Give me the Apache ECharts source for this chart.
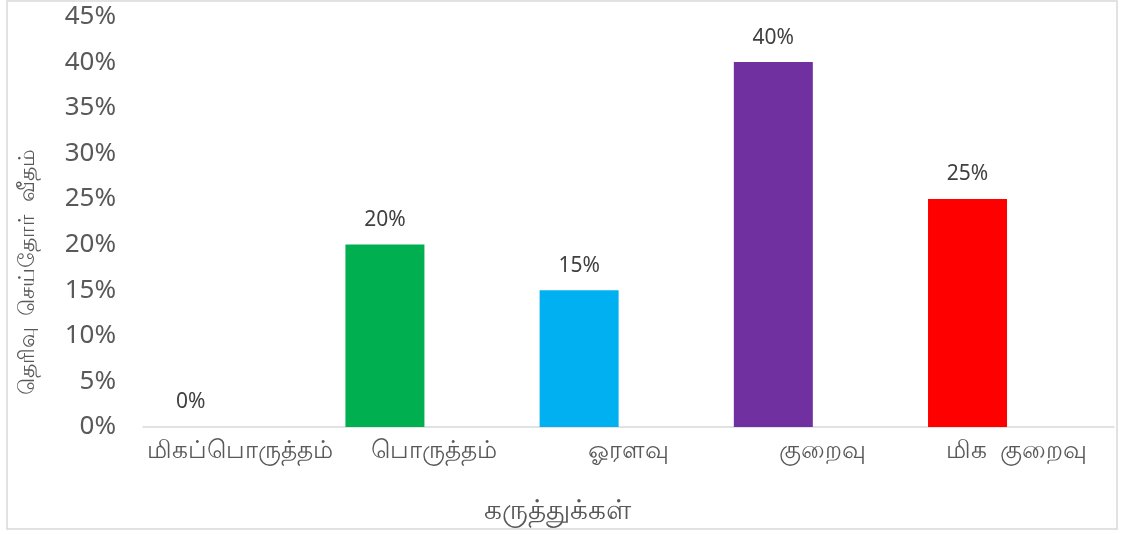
<!DOCTYPE html>
<html>
<head>
<meta charset="utf-8">
<script src="https://cdn.jsdelivr.net/npm/echarts@6/dist/echarts.min.js"></script>
<style>
html,body{margin:0;padding:0;background:#fff;}
#chart{width:1122px;height:534px;}
</style>
</head>
<body>
<div id="chart"></div>
<script>
const categories = ['மிகப்பொருத்தம்', 'பொருத்தம்', 'ஓரளவு', 'குறைவு', 'மிக  குறைவு'];
const values = [0, 20, 15, 40, 25];
const barColors = ['#4472C4', '#00B050', '#00B0F0', '#7030A0', '#FF0000'];
const placeholder = [null, null, null, null, null];
const yTicks = { min: 0, max: 45, interval: 5 };
const xTitle = 'கருத்துக்கள்';
const yTitle = 'தெரிவு  செய்தோர்  வீதம்';

const chart = echarts.init(document.getElementById('chart'));
const font = "'Noto Sans', 'Open Sans', sans-serif";
chart.setOption({
  animation: false,
  backgroundColor: '#fff',
  grid: { left: 143, right: 8, top: 16.5, bottom: 107, containLabel: false },
  xAxis: {
    type: 'category',
    data: categories,
    axisLine: { show: true, lineStyle: { color: '#d9d9d9', width: 1.5 } },
    axisTick: { show: false },
    axisLabel: { color: '#595959', fontSize: 25, fontFamily: font, margin: 11, interval: 0 },
    splitLine: { show: false }
  },
  yAxis: {
    type: 'value',
    min: yTicks.min, max: yTicks.max, interval: yTicks.interval,
    axisLine: { show: false },
    axisTick: { show: false },
    splitLine: { show: false },
    axisLabel: { color: '#595959', fontSize: 26, fontFamily: font, margin: 27, formatter: '{value}%' }
  },
  series: [
    {
      type: 'bar',
      data: values.map((v, i) => ({ value: v, itemStyle: { color: barColors[i] } })),
      barWidth: 79,
      barGap: '25%',
      label: {
        show: true, position: 'top', distance: 14,
        color: '#404040', fontSize: 21, fontFamily: font,
        formatter: p => p.value + '%'
      }
    },
    {
      type: 'bar',
      data: placeholder,
      barWidth: 79
    }
  ],
  graphic: [
    { type: 'rect', shape: { x: 7, y: 1, width: 1110, height: 528 },
      style: { fill: 'none', stroke: '#d9d9d9', lineWidth: 1.5 }, silent: true, z: -1 },
    { type: 'text', x: 557, y: 511,
      style: { text: xTitle, fill: '#595959', font: "28px 'Noto Sans', sans-serif", align: 'center', verticalAlign: 'middle' } },
    { type: 'text', x: 28, y: 272, rotation: Math.PI / 2,
      style: { text: yTitle, fill: '#595959', font: "22px 'Noto Sans', sans-serif", align: 'center', verticalAlign: 'middle' } }
  ]
});
</script>
</body>
</html>
